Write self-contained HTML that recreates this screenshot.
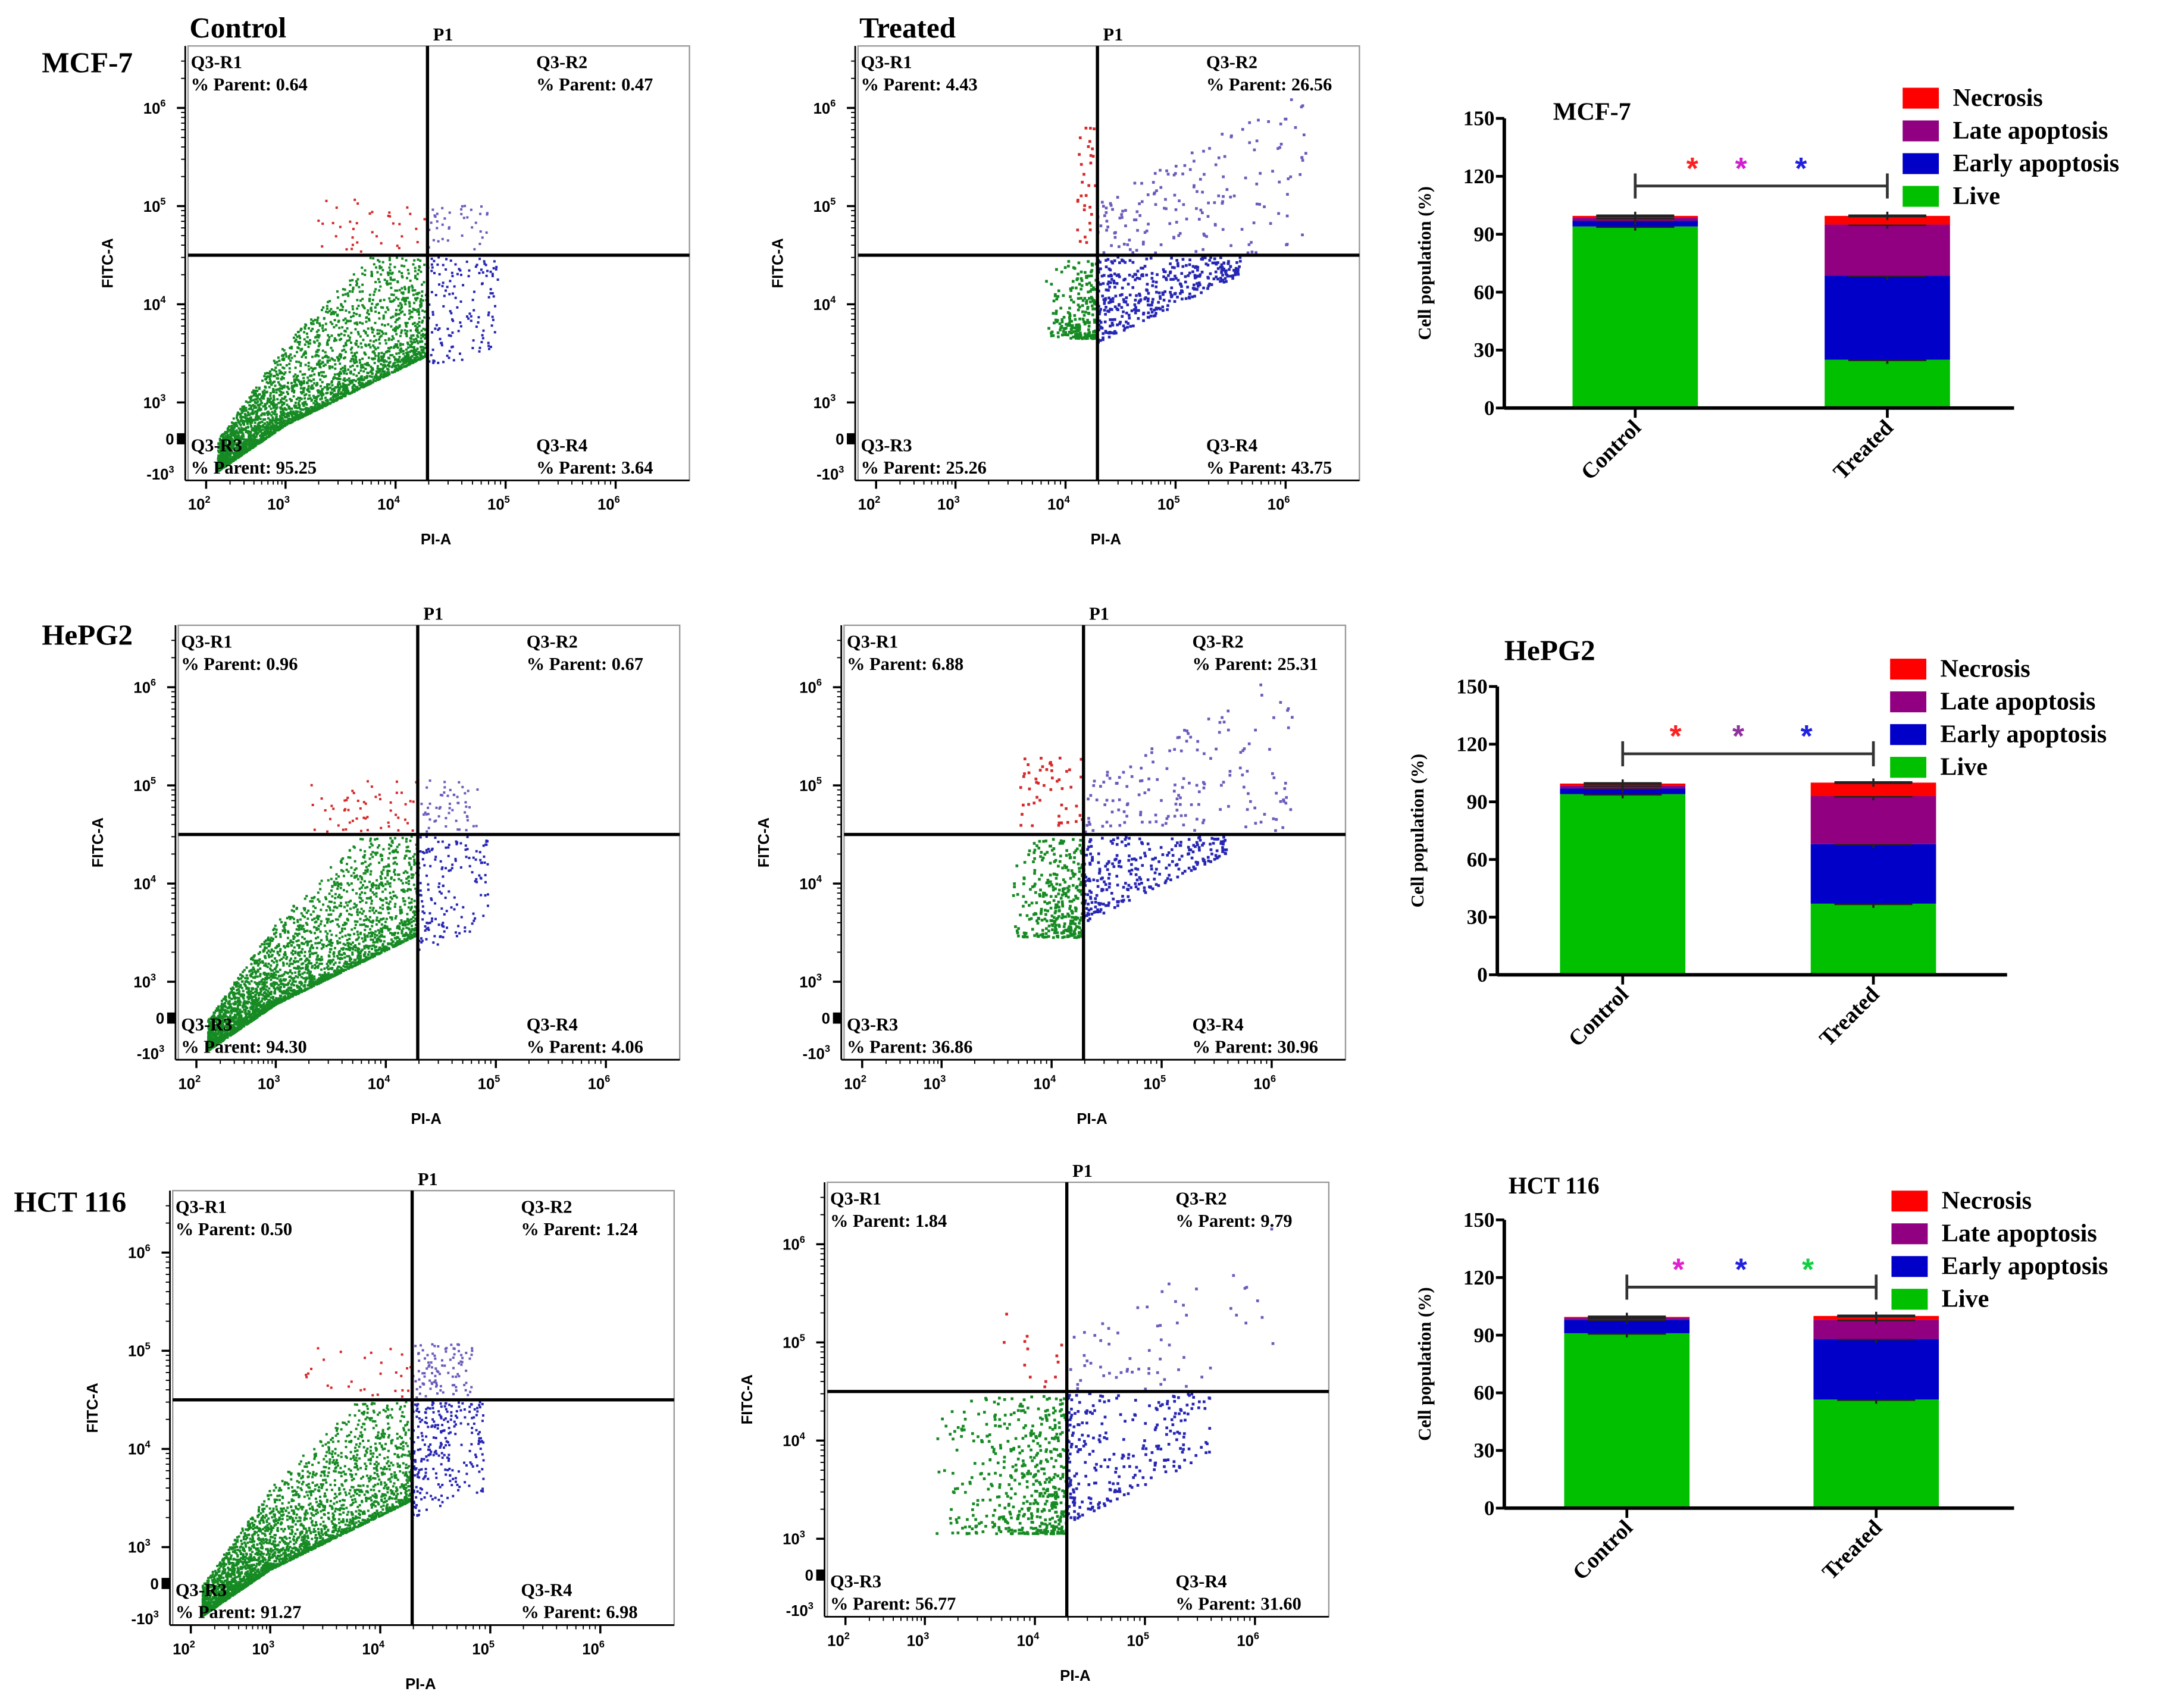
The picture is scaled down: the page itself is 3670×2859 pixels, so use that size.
<!DOCTYPE html>
<html><head><meta charset="utf-8"><style>
html,body{margin:0;padding:0;background:#fff}
svg{display:block}
.ser{font-family:"Liberation Serif",serif;font-weight:bold}
.san{font-family:"Liberation Sans",sans-serif;font-weight:bold}
</style></head><body>
<svg id="fig" xmlns="http://www.w3.org/2000/svg" width="3670" height="2859" viewBox="0 0 1568 1221.5">
<rect width="1568" height="1221.5" fill="#fff"/>
<g id="flow"></g>
<g id="bars"></g>
</svg>
<script>
const NS='http://www.w3.org/2000/svg';
// ---- flow cytometry quadrant data ----
const panelNames=['mcf7-control','mcf7-treated','hepg2-control','hepg2-treated','hct116-control','hct116-treated'];
const q1Values=[0.64,4.43,0.96,6.88,0.50,1.84];
const q2Values=[0.47,26.56,0.67,25.31,1.24,9.79];
const q3Values=[95.25,25.26,94.30,36.86,91.27,56.77];
const q4Values=[3.64,43.75,4.06,30.96,6.98,31.60];
const panelTitles=['Control','Treated','','','',''];
const xTickLabels=['2','3','4','5','6'];
const yTickLabels=['6','5','4','3'];
// ---- bar chart data ----
const barCategories=['Control','Treated'];
const cellLines=['MCF-7','HePG2','HCT 116'];
const liveVals=[[94,25],[94,37],[91,56.5]];
const earlyVals=[[3,43.5],[3,31],[7,31.5]];
const lateVals=[[1.5,26.5],[1.5,25],[1,10]];
const necroVals=[[1,4.5],[1,7],[0.5,2]];
const yTicks=[0,30,60,90,120,150];
const legendLabels=['Necrosis','Late apoptosis','Early apoptosis','Live'];

function el(tag,attrs,parent,text){const e=document.createElementNS(NS,tag);for(const k in attrs)e.setAttribute(k,attrs[k]);if(text!==undefined)e.textContent=text;(parent||document.getElementById('fig')).appendChild(e);return e;}
let seed=12345;function rnd(){seed=(seed*1103515245+12345)%2147483648;return seed/2147483648;}

const boxes=[[135,33],[616,33],[128,449],[606,449],[124,855],[594,849]];
const flow=document.getElementById('flow');
function xPix(u){return u>=3?70+(u-3)*79:13+(u-2)*57;}
function yPix(v){return 256-(v-3)*70.5;}
const UV=4.29, VH=4.5;
boxes.forEach((b,i)=>{
  const g=el('g',{},flow);
  
  
  const X=u=>b[0]+xPix(u), Y=v=>b[1]+yPix(v);
  el('rect',{x:b[0],y:b[1],width:360,height:312,fill:'none',stroke:'#999','stroke-width':1},g);
  const dots=el('g',{},g);
  const treated=i%2===1;
  const ds=treated?2.0:1.7;
  function dot(u,v,c){if(u<2.0||u>6.6||v<2.25||v>6.5)return;el('rect',{x:X(u)-ds/2,y:Y(v)-ds/2,width:ds,height:ds,fill:c},dots);}
  const scale=treated?9:32;
  // Q3 green
  const n3=Math.round(q3Values[i]*scale);
  for(let k=0;k<n3;k++){
    let u,v;
    if(!treated){const t=Math.pow(rnd(),1.2);u=2.15+t*2.14;const lo=2.3+(u-2.15)*0.55;const up=Math.min(4.48,Math.max(lo+0.3,2.9+(u-2.4)*1.15));v=lo+Math.pow(rnd(),2.3)*(up-lo);if(u>UV)u=UV-rnd()*0.05;}
    else{const lu=i===5?3.1:(i===1?3.8:3.6);const lv=i===5?3.05:(i===1?3.65:3.45);u=lu+Math.sqrt(rnd())*(UV-lu);v=lv+Math.pow(rnd(),1.6)*(4.45-lv);}
    dot(u,v,'#168a23');
  }
  // Q4 blue
  const n4=Math.round(q4Values[i]*scale*(treated?1:1.2));
  for(let k=0;k<n4;k++){
    let u,v;
    if(!treated){u=UV+Math.pow(rnd(),1.3)*0.65;v=3.3+rnd()*1.2+ (u-UV)*0.4;if(v>4.48)v=4.48-rnd()*0.2;}
    else{const t=Math.pow(rnd(),1.6);u=UV+t*1.3;const lo=(i===5?3.15:3.6)+t*0.7;v=lo+Math.pow(rnd(),1.3)*(4.48-lo);}
    dot(u,v,'#2626b4');
  }
  // Q2 purple
  const n2=Math.round(q2Values[i]*scale*(treated?0.7:2.5));
  for(let k=0;k<n2;k++){
    let u,v;
    if(!treated){u=UV+rnd()*0.55;v=4.52+rnd()*0.55;}
    else{const t=rnd();u=UV+t*1.9;v=4.52+rnd()*(0.5+t*1.2);}
    dot(u,v,'#6a5cbc');
  }
  // Q1 red
  const n1=Math.round(q1Values[i]*scale*(treated?0.8:1.8));
  for(let k=0;k<n1;k++){
    let u,v;
    if(!treated){u=3.3+rnd()*0.98;v=4.52+rnd()*0.55;}
    else{const lu=i===1?4.1:3.7;u=lu+rnd()*(UV-lu);v=4.52+rnd()*(i===1?1.3:0.8);}
    dot(u,v,'#d42a2a');
  }
  // quadrant lines
  el('line',{x1:X(UV),y1:b[1],x2:X(UV),y2:b[1]+312,stroke:'#000','stroke-width':2.3},g);
  el('line',{x1:b[0],y1:Y(VH),x2:b[0]+360,y2:Y(VH),stroke:'#000','stroke-width':2.3},g);
  const p1=el('text',{x:X(UV)+4,y:b[1]-4,'font-size':13,'class':'ser'},g,'P1');
  
  // ticks
  const ax=el('g',{},g);
  
  el('line',{x1:b[0]-2,y1:b[1]+312,x2:b[0]+360,y2:b[1]+312,stroke:'#000','stroke-width':1.2},ax);
  el('line',{x1:b[0]-2,y1:b[1],x2:b[0]-2,y2:b[1]+312,stroke:'#000','stroke-width':1.2},ax);
  xTickLabels.forEach(t=>{const u=+t;el('line',{x1:X(u),y1:b[1]+312,x2:X(u),y2:b[1]+318,stroke:'#000','stroke-width':1.5},ax);
    for(let m=2;m<10&&u<6;m++){const uu=u+Math.log10(m);el('line',{x1:X(uu),y1:b[1]+312,x2:X(uu),y2:b[1]+315,stroke:'#000','stroke-width':0.8},ax);}
    const tx=el('text',{x:X(u)-5,y:b[1]+333,'font-size':11,'class':'san','text-anchor':'middle'},ax,'10');
    el('tspan',{dy:-5,'font-size':7},tx,t);});
  yTickLabels.forEach(t=>{const v=+t;el('line',{x1:b[0]-8,y1:Y(v),x2:b[0]-2,y2:Y(v),stroke:'#000','stroke-width':1.5},ax);
    for(let m=2;m<10&&v<6.5;m++){const vv=v+Math.log10(m);if(vv<6.6)el('line',{x1:b[0]-5,y1:Y(vv),x2:b[0]-2,y2:Y(vv),stroke:'#000','stroke-width':0.8},ax);}
    const tx=el('text',{x:b[0]-16,y:Y(v)+4,'font-size':11,'class':'san','text-anchor':'end'},ax,'10');
    el('tspan',{dy:-5,'font-size':7},tx,t);});
  el('rect',{x:b[0]-8,y:Y(2.63)-4,width:6,height:8,fill:'#000'},ax);
  el('text',{x:b[0]-10,y:Y(2.63)+4,'font-size':11,'class':'san','text-anchor':'end'},ax,'0');
  const mt=el('text',{x:b[0]-10,y:Y(2.27)+4,'font-size':11,'class':'san','text-anchor':'end'},ax,'-10');
  el('tspan',{dy:-5,'font-size':7},mt,'3');
  const xl=el('text',{x:b[0]+178,y:b[1]+358,'font-size':11,'class':'san','text-anchor':'middle'},g,'PI-A');
  
  const yl=el('text',{x:0,y:0,'font-size':11,'class':'san','text-anchor':'middle',transform:`translate(${b[0]-54},${b[1]+156}) rotate(-90)`},g,'FITC-A');
  
  // quadrant labels
  const ql=[['Q3-R1',q1Values[i],b[0]+2,b[1]+16,'start'],['Q3-R2',q2Values[i],b[0]+250,b[1]+16,'start'],['Q3-R3',q3Values[i],b[0]+2,b[1]+291,'start'],['Q3-R4',q4Values[i],b[0]+250,b[1]+291,'start']];
  ql.forEach(q=>{const t=el('text',{x:q[2],y:q[3],'font-size':13,'class':'ser'},g,q[0]);
    
    const p=el('text',{x:q[2],y:q[3]+16,'font-size':13,'class':'ser'},g,'% Parent: '+q[1].toFixed(2));
    });
  if(panelTitles[i]){const t=el('text',{x:b[0]+1,y:27,'font-size':21,'class':'ser'},g,panelTitles[i]);
    }
});
[['MCF-7',30,52],['HePG2',30,463],['HCT 116',10,870]].forEach(r=>{const t=el('text',{x:r[1],y:r[2],'font-size':21,'class':'ser'},flow,r[0]);
  });

// ---- bar charts ----
const charts=[{ax:1080,y0:293,y150:85,c:[1174,1355],title:[1115,86,18],leg:[1366,70],stars:[[1215,'#ff2020'],[1250,'#d020d0'],[1293,'#2020e0']]},
{ax:1075,y0:700,y150:493,c:[1165,1345],title:[1080,474,21],leg:[1357,480],stars:[[1203,'#ff2020'],[1248,'#9030a0'],[1297,'#2020e0']]},
{ax:1080,y0:1083,y150:876,c:[1168,1347],title:[1083,857,17],leg:[1358,862],stars:[[1205,'#e020d0'],[1250,'#2020e0'],[1298,'#10d040']]}];
const colors=['#ff0000','#900080','#0000c8','#00c000'];
const bars=document.getElementById('bars');
charts.forEach((c,ci)=>{
  const g=el('g',{},bars);
  
  
  const Y=v=>c.y0-(v/150)*(c.y0-c.y150);
  const t=el('text',{x:c.title[0],y:c.title[1],'font-size':c.title[2],'class':'ser'},g,cellLines[ci]);
  
  barCategories.forEach((cat,bi)=>{
    const segs=[liveVals[ci][bi],earlyVals[ci][bi],lateVals[ci][bi],necroVals[ci][bi]];
    const cols=['#00c000','#0000c8','#900080','#ff0000'];
    let acc=0;
    segs.forEach((s,si)=>{
      const r=el('rect',{x:c.c[bi]-45,y:Y(acc+s),width:90,height:Y(acc)-Y(acc+s),fill:cols[si]},g);
      
      
      acc+=s;
      const ey=Y(acc);
      el('line',{x1:c.c[bi]-28,y1:ey,x2:c.c[bi]+28,y2:ey,stroke:'#222','stroke-width':2},g);
      el('line',{x1:c.c[bi],y1:ey-3,x2:c.c[bi],y2:ey+3,stroke:'#222','stroke-width':1.5},g);
    });
    el('line',{x1:c.c[bi],y1:c.y0,x2:c.c[bi],y2:c.y0+7,stroke:'#000','stroke-width':2},g);
    const lx=el('text',{x:0,y:0,'font-size':16,'class':'ser','text-anchor':'end',transform:`translate(${c.c[bi]+5},${c.y0+15}) rotate(-45)`},g,cat);
    
  });
  el('line',{x1:c.ax,y1:c.y150,x2:c.ax,y2:c.y0,stroke:'#000','stroke-width':2.5},g);
  el('line',{x1:c.ax,y1:c.y0,x2:c.ax+366,y2:c.y0,stroke:'#000','stroke-width':2.5},g);
  yTicks.forEach(v=>{el('line',{x1:c.ax-6,y1:Y(v),x2:c.ax,y2:Y(v),stroke:'#000','stroke-width':2},g);
    const tl=el('text',{x:c.ax-7,y:Y(v)+5,'font-size':15,'class':'ser','text-anchor':'end'},g,String(v));
    });
  const yt=el('text',{x:0,y:0,'font-size':13,'class':'ser','text-anchor':'middle',transform:`translate(${c.ax-53},${Y(75)}) rotate(-90)`},g,'Cell population (%)');
  
  // bracket
  const by=Y(115);
  el('line',{x1:c.c[0],y1:by,x2:c.c[1],y2:by,stroke:'#333','stroke-width':2},g);
  el('line',{x1:c.c[0],y1:by-9,x2:c.c[0],y2:by+9,stroke:'#333','stroke-width':2},g);
  el('line',{x1:c.c[1],y1:by-9,x2:c.c[1],y2:by+9,stroke:'#333','stroke-width':2},g);
  c.stars.forEach(s=>{const st=el('text',{x:s[0],y:by-5,'font-size':22,'class':'san','text-anchor':'middle',fill:s[1]},g,'*');
    });
  legendLabels.forEach((l,li)=>{const yy=c.leg[1]+li*23.5;
    const sw=el('rect',{x:c.leg[0],y:yy-7,width:26,height:15,fill:colors[li]},g);
    
    const lt=el('text',{x:c.leg[0]+36,y:yy+6,'font-size':18,'class':'ser'},g,l);
    });
});
</script>
</body></html>
